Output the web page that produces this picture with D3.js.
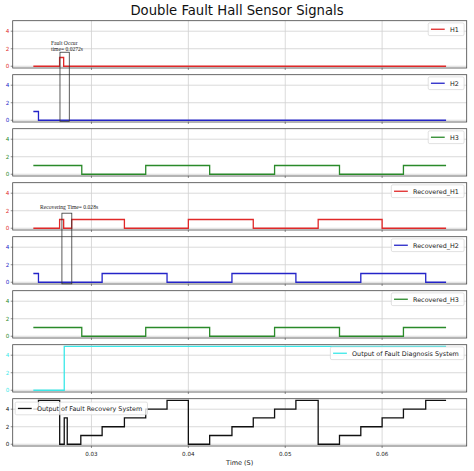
<!DOCTYPE html>
<html>
<head>
<meta charset="utf-8">
<script src="https://cdn.jsdelivr.net/npm/d3@7"></script>
<style>
  body { margin: 0; background: #fff; }
  svg { display: block; font-family: "DejaVu Sans", sans-serif; }
</style>
</head>
<body>
<div id="chart"></div>
<script>
// change points [time, level]; each level holds until the next point
const T_END = 0.0666;
const h1 = [[0.0240, 0], [0.02671, 1], [0.02713, 0]];
const h2 = [[0.0240, 1], [0.02453, 0]];
const h3 = [[0.0240, 1], [0.0290, 0], [0.0356, 1], [0.0422, 0], [0.0489, 1], [0.0556, 0], [0.0622, 1]];
const recH1 = [[0.0240, 0], [0.02671, 1], [0.02713, 0], [0.02796, 1], [0.0334, 0], [0.0400, 1], [0.0467, 0], [0.0534, 1], [0.0600, 0]];
const recH2 = [[0.0240, 1], [0.02453, 0], [0.0311, 1], [0.0378, 0], [0.0445, 1], [0.0511, 0], [0.0578, 1], [0.0645, 0]];
const recH3 = [[0.0240, 1], [0.0290, 0], [0.0356, 1], [0.0422, 0], [0.0489, 1], [0.0556, 0], [0.0622, 1]];
const diagOut = [[0.0240, 0], [0.02719, 5]];
const recovOut = [[0.0240, 4], [0.02453, 5], [0.02672, 0], [0.02719, 3], [0.0275, 0], [0.0289, 1], [0.0311, 2],
  [0.0334, 3], [0.0356, 4], [0.0378, 5], [0.0400, 0], [0.0422, 1], [0.0445, 2], [0.0467, 3], [0.0489, 4],
  [0.0511, 5], [0.0534, 0], [0.0556, 1], [0.0578, 2], [0.0600, 3], [0.0622, 4], [0.0645, 5]];

const panelNames = ["H1", "H2", "H3", "Recovered_H1", "Recovered_H2", "Recovered_H3",
  "Output of Fault Diagnosis System", "Output of Fault Recovery System"];
const panelData = [h1, h2, h3, recH1, recH2, recH3, diagOut, recovOut];
const panelColors = ["#e02828", "#2424c8", "#2a8a2a", "#e02828", "#2424c8", "#2a8a2a", "#3ae8e8", "#111111"];
const xTicks = [0.03, 0.04, 0.05, 0.06];
const yTicks = [0, 2, 4];

const W = 474, H = 471;
const LEFT = 12.7, RIGHT = 466.7;
const TOP0 = 20.7, PITCH = 54, PH = 47.3;

const svg = d3.select("#chart").append("svg")
  .attr("width", W).attr("height", H);

const pad = (T_END - 0.0240) * 0.05;
const x = d3.scaleLinear().domain([0.0240 - pad, T_END + pad]).range([LEFT, RIGHT]);
const ys = panelNames.map((n, i) =>
  d3.scaleLinear().domain([-0.2, 5.2]).range([TOP0 + i * PITCH + PH, TOP0 + i * PITCH]));

svg.append("text")
  .attr("x", W / 2).attr("y", 14.5)
  .attr("text-anchor", "middle")
  .attr("font-size", 13.2)
  .attr("fill", "#111")
  .text("Double Fault Hall Sensor Signals");

panelNames.forEach((name, i) => {
  const y = ys[i];
  const top = TOP0 + i * PITCH, bottom = top + PH;
  const g = svg.append("g");
  const col = panelColors[i];
  const last = i === panelNames.length - 1;

  // grid
  g.selectAll(".gy").data(yTicks).enter().append("line")
    .attr("x1", LEFT).attr("x2", RIGHT)
    .attr("y1", d => y(d)).attr("y2", d => y(d))
    .attr("stroke", "#d0d0d0").attr("stroke-width", 0.8);
  g.selectAll(".gx").data(xTicks).enter().append("line")
    .attr("x1", d => x(d)).attr("x2", d => x(d))
    .attr("y1", top).attr("y2", bottom)
    .attr("stroke", "#d0d0d0").attr("stroke-width", 0.8);

  // step signal
  const pts = panelData[i].concat([[T_END, panelData[i][panelData[i].length - 1][1]]]);
  const line = d3.line()
    .x(d => x(d[0]))
    .y(d => y(d[1]))
    .curve(d3.curveStepAfter);
  g.append("path")
    .attr("d", line(pts))
    .attr("fill", "none")
    .attr("stroke", col)
    .attr("stroke-width", 1.3);

  // frame
  g.append("rect")
    .attr("x", LEFT).attr("y", top)
    .attr("width", RIGHT - LEFT).attr("height", PH)
    .attr("fill", "none").attr("stroke", "#444").attr("stroke-width", 0.8);

  // y ticks
  g.selectAll(".ty").data(yTicks).enter().append("line")
    .attr("x1", LEFT - 2).attr("x2", LEFT)
    .attr("y1", d => y(d)).attr("y2", d => y(d))
    .attr("stroke", "#444").attr("stroke-width", 0.6);
  g.selectAll(".yl").data(yTicks).enter().append("text")
    .attr("x", LEFT - 3.5).attr("y", d => y(d) + 2)
    .attr("text-anchor", "end")
    .attr("font-size", 5.6)
    .attr("fill", col)
    .text(d => d);

  // x ticks
  g.selectAll(".tx").data(xTicks).enter().append("line")
    .attr("x1", d => x(d)).attr("x2", d => x(d))
    .attr("y1", bottom).attr("y2", bottom + 2)
    .attr("stroke", "#444").attr("stroke-width", 0.6);
  if (last) {
    g.selectAll(".xl").data(xTicks).enter().append("text")
      .attr("x", d => x(d)).attr("y", bottom + 9.5)
      .attr("text-anchor", "middle")
      .attr("font-size", 5.6)
      .attr("fill", "#222")
      .text(d => d3.format(".2f")(d));
  }

  // legend
  const leg = svg.append("g");
  const box = leg.append("rect")
    .attr("fill", "#fff").attr("fill-opacity", 0.8)
    .attr("stroke", "#ccc").attr("stroke-width", 0.6)
    .attr("rx", 1.5);
  const txt = leg.append("text")
    .attr("font-size", 6.4)
    .attr("fill", "#222")
    .text(name);
  const tw = txt.node().getComputedTextLength();
  const bw = tw + 27, bh = 12.7;
  const bx = last ? LEFT + 2.5 : RIGHT - 2.6 - bw;
  const by = last ? top + 3.4 : top + 2.2;
  box.attr("x", bx).attr("y", by).attr("width", bw).attr("height", bh);
  leg.append("line")
    .attr("x1", bx + 2.7).attr("x2", bx + 16.5)
    .attr("y1", by + bh / 2).attr("y2", by + bh / 2)
    .attr("stroke", col).attr("stroke-width", 1.3);
  txt.attr("x", bx + 21.7).attr("y", by + bh / 2 + 2.3);
});

svg.append("text")
  .attr("x", (LEFT + RIGHT) / 2).attr("y", 464.5)
  .attr("text-anchor", "middle")
  .attr("font-size", 6.5)
  .attr("fill", "#222")
  .text("Time (S)");

// annotation boxes spanning two panels
const notes = [
  { p: 0, x0: 0.02675, x1: 0.02771, yTop: 1.6, yBot: -0.12, lines: ["Fault Occur", "time= 0.0272s"], tx: 0.02582, ty: [2.45, 1.72] },
  { p: 3, x0: 0.02695, x1: 0.02797, yTop: 1.72, yBot: -0.18, lines: ["Recovering Time= 0.028s"], tx: 0.02470, ty: [2.15] }
];
notes.forEach(n => {
  const yT = ys[n.p], yB = ys[n.p + 1];
  svg.append("rect")
    .attr("x", x(n.x0)).attr("y", yT(n.yTop))
    .attr("width", x(n.x1) - x(n.x0))
    .attr("height", yB(n.yBot) - yT(n.yTop))
    .attr("fill", "none").attr("stroke", "#333").attr("stroke-width", 0.8);
  n.lines.forEach((s, k) => {
    svg.append("text")
      .attr("x", x(n.tx)).attr("y", yT(n.ty[k]))
      .attr("font-family", "Liberation Serif, serif")
      .attr("font-size", 5.6)
      .attr("fill", "#222")
      .text(s);
  });
});
</script>
</body>
</html>
